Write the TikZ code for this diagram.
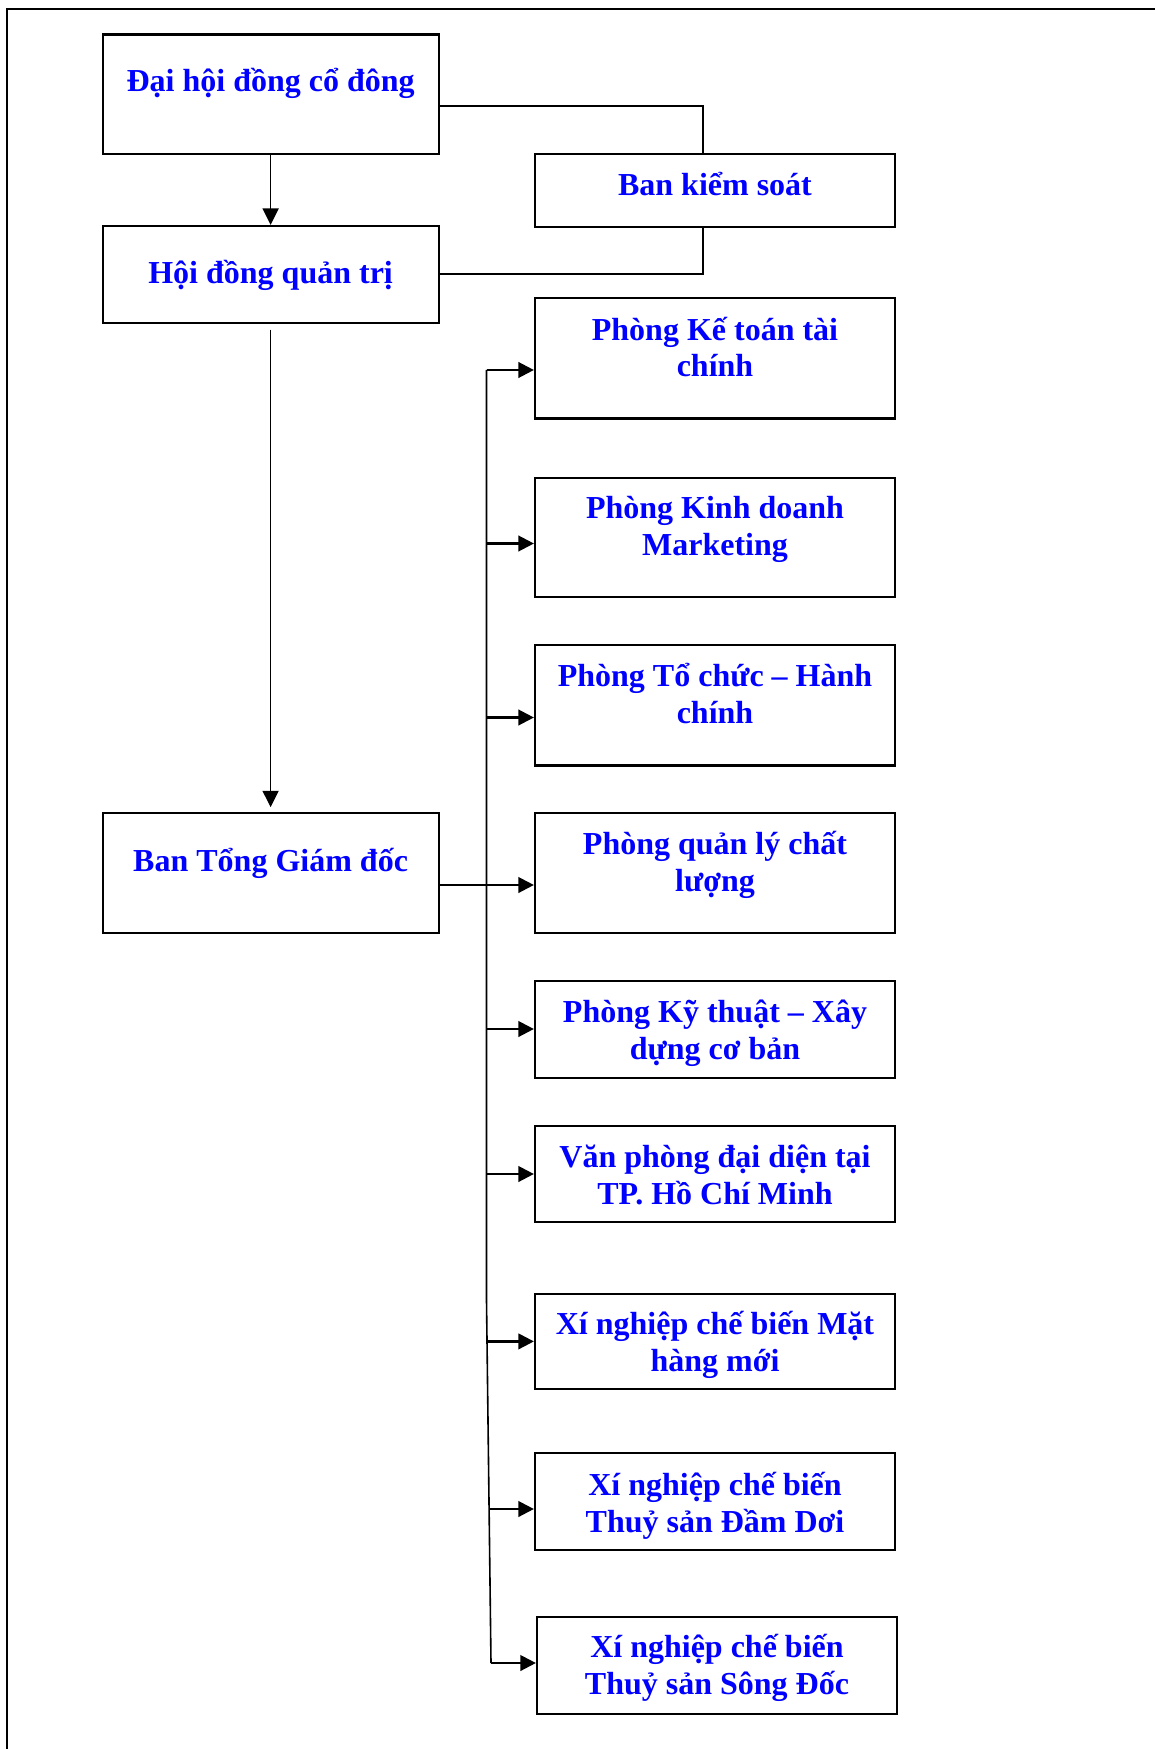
\documentclass[tikz,border=0pt]{standalone}
\usepackage{fontspec}
\setmainfont{Liberation Serif}
\usetikzlibrary{arrows.meta}
\newcommand{\lnstrut}{\rule[-5.4pt]{0pt}{18.4pt}}
\begin{document}
\begin{tikzpicture}[x=0.5pt,y=-0.5pt,
  box/.style 2 args={draw=black, line width=1.1pt, inner sep=0pt, minimum width=#1*0.5pt, minimum height=#2*0.5pt},
  txt/.style={text=blue, font=\fontsize{16pt}{18.4pt}\selectfont\bfseries, align=center, inner sep=0pt},
  thinline/.style={draw=black, line width=0.8pt},
  harr/.style={draw=black, line width=1.2pt, -{Triangle[length=7.8pt,width=7.8pt]}},
  varr/.style={draw=black, line width=0.8pt, -{Triangle[length=8.2pt,width=8pt]}},
  frame/.style={draw=black, line width=1pt}]
\useasboundingbox (0,0) rectangle (1155,1749);
\fill[white] (0,0) rectangle (1155,1749);
% outer frame
\coordinate (fTR) at (1160,9);
\coordinate (fTL) at (7,9);
\coordinate (fBL) at (7,1755);
\draw[frame] (fTR) -- (fTL) -- (fBL);

% left column
\node[box={336}{119.8}] (A) at (270.6,94.4) {};
\node[txt] (tA) at (270.6,84) {\lnstrut Đại hội đồng cổ đông};
\node[box={360}{72.7}] (B) at (715,190.3) {};
\node[txt] (tB) at (715,188) {\lnstrut Ban kiểm soát};
\node[box={336}{96.7}] (C) at (270.6,274.3) {};
\node[txt] (tC) at (270.6,275.5) {\lnstrut Hội đồng quản trị};
\node[box={336}{120}] (D) at (270.6,873.3) {};
\node[txt] (tD) at (270.6,863.5) {\lnstrut Ban Tổng Giám đốc};

% right column
\node[box={360}{120.5}] (R1) at (715,358.2) {};
\node[txt] (t1) at (715,351) {\lnstrut Phòng Kế toán tài\\\lnstrut chính};
\node[box={360}{119.4}] (R2) at (715,537.3) {};
\node[txt] (t2) at (715,529.5) {\lnstrut Phòng Kinh doanh\\\lnstrut Marketing};
\node[box={360}{120.5}] (R3) at (715,705.2) {};
\node[txt] (t3) at (715,697) {\lnstrut Phòng Tổ chức – Hành\\\lnstrut chính};
\node[box={360}{120}] (R4) at (715,873.3) {};
\node[txt] (t4) at (715,865.5) {\lnstrut Phòng quản lý chất\\\lnstrut lượng};
\node[box={360}{96.7}] (R5) at (715,1029.3) {};
\node[txt] (t5) at (715,1033.5) {\lnstrut Phòng Kỹ thuật – Xây\\\lnstrut dựng cơ bản};
\node[box={360}{96}] (R6) at (715,1174) {};
\node[txt] (t6) at (715,1178.5) {\lnstrut Văn phòng đại diện tại\\\lnstrut TP. Hồ Chí Minh};
\node[box={360}{95}] (R7) at (715,1341.5) {};
\node[txt] (t7) at (715,1345.5) {\lnstrut Xí nghiệp chế biến Mặt\\\lnstrut hàng mới};
\node[box={360}{97}] (R8) at (715,1501.5) {};
\node[txt] (t8) at (715,1506) {\lnstrut Xí nghiệp chế biến\\\lnstrut Thuỷ sản Đầm Dơi};
\node[box={360}{97}] (R9) at (717,1665.5) {};
\node[txt] (t9) at (717,1668.5) {\lnstrut Xí nghiệp chế biến\\\lnstrut Thuỷ sản Sông Đốc};

% top connectors
\coordinate (ab) at (703,106.3);
\draw[thinline] (A.east |- ab) -- (ab) -- (ab |- B.north);
\coordinate (bc) at (703,274.3);
\draw[thinline] (bc |- B.south) -- (bc) -- (bc -| C.east);
\draw[varr] (A.south) -- (C.north);
\draw[varr, shorten <=3pt, shorten >=2.5pt] (C.south) -- (D.north);

% bus
\coordinate (b1) at (486.5,370);
\coordinate (b2) at (486.5,543.5);
\coordinate (b3) at (486.5,717.5);
\coordinate (b4) at (486.5,885);
\coordinate (b5) at (486.5,1029);
\coordinate (b6) at (486.5,1174);
\coordinate (bk) at (486.5,1300);
\coordinate (b7) at (487,1341.4);
\coordinate (b8) at (489,1509);
\coordinate (b9) at (491,1663);
\draw[thinline] (b1) -- (bk) -- (b9);
\draw[thinline] (D.east |- b4) -- (b4);
\draw[harr] (b1) -- (b1 -| R1.west);
\draw[harr] (b2) -- (b2 -| R2.west);
\draw[harr] (b3) -- (b3 -| R3.west);
\draw[harr] (b4) -- (b4 -| R4.west);
\draw[harr] (b5) -- (b5 -| R5.west);
\draw[harr] (b6) -- (b6 -| R6.west);
\draw[harr] (b7) -- (b7 -| R7.west);
\draw[harr] (b8) -- (b8 -| R8.west);
\draw[harr] (b9) -- (b9 -| R9.west);
\end{tikzpicture}
\end{document}
